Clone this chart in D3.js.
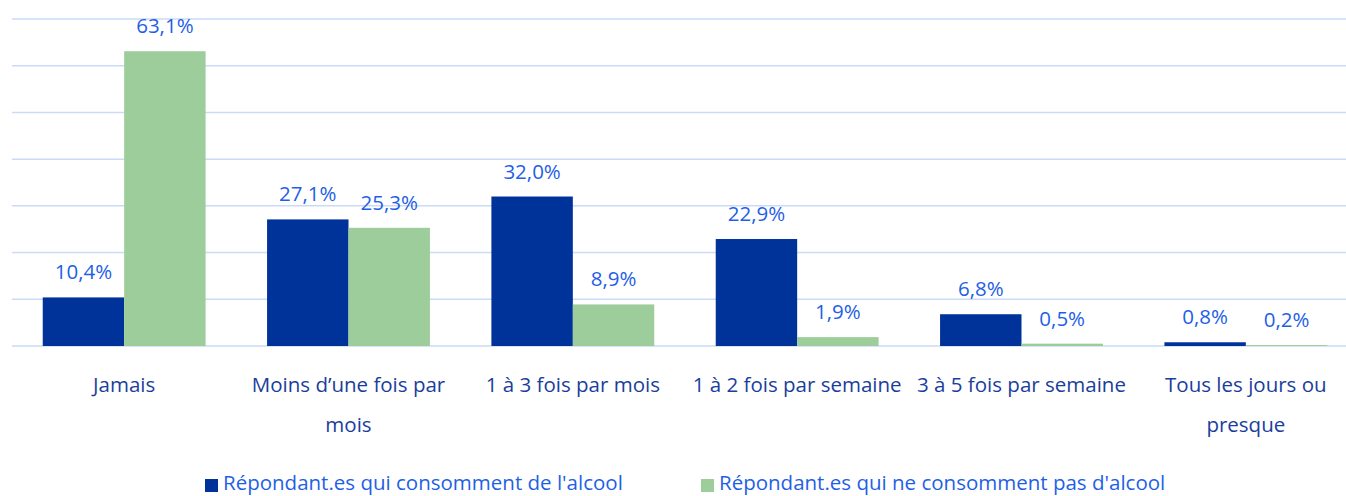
<!DOCTYPE html>
<html>
<head>
<meta charset="utf-8">
<script src="https://cdn.jsdelivr.net/npm/d3@7"></script>
<style>
  body { margin: 0; background: #fff; }
  svg { display: block; font-family: "Open Sans", "Noto Sans", sans-serif; }
</style>
</head>
<body>
<svg id="chart" width="1346" height="496"></svg>
<script>
var categories = [
    ["Jamais"],
    ["Moins d\u2019une fois par", "mois"],
    ["1 \u00e0 3 fois par mois"],
    ["1 \u00e0 2 fois par semaine"],
    ["3 \u00e0 5 fois par semaine"],
    ["Tous les jours ou", "presque"]
];
var seriesNames = ["R\u00e9pondant.es qui consomment de l'alcool", "R\u00e9pondant.es qui ne consomment pas d'alcool"];
var drinkers = [10.4, 27.1, 32.0, 22.9, 6.8, 0.8];
var nonDrinkers = [63.1, 25.3, 8.9, 1.9, 0.5, 0.2];
var yTicks = [0, 10, 20, 30, 40, 50, 60, 70];

var colors = ["#003399", "#9dcd9a"];

var svg = d3.select("#chart");
var plotTop = 19, plotBottom = 346, plotLeft = 12, plotRight = 1358;

var groups = categories.map(function(c, i) { return i; });
var x0 = d3.scaleBand().domain(groups).range([plotLeft, plotRight]).paddingInner(0.274).paddingOuter(0.137);
var x1 = d3.scaleBand().domain([0, 1]).range([0, x0.bandwidth()]);
var y = d3.scaleLinear().domain([0, 70]).range([plotBottom, plotTop]);

// grid
svg.append("g").selectAll("line").data(yTicks).enter().append("line")
    .attr("x1", plotLeft).attr("x2", 1346)
    .attr("y1", function(d) { return y(d); })
    .attr("y2", function(d) { return y(d); })
    .attr("stroke", "#c9dbf7").attr("stroke-width", 1.5);

var series = [drinkers, nonDrinkers];
series.forEach(function(vals, s) {
    var g = svg.append("g");
    g.selectAll("rect").data(vals).enter().append("rect")
        .attr("x", function(d, i) { return x0(i) + x1(s); })
        .attr("y", function(d) { return y(d); })
        .attr("width", x1.bandwidth())
        .attr("height", function(d) { return plotBottom - y(d); })
        .attr("fill", colors[s]);
    g.selectAll("text").data(vals).enter().append("text")
        .attr("x", function(d, i) { return x0(i) + x1(s) + x1.bandwidth() / 2; })
        .attr("y", function(d) { return y(d) - 18; })
        .attr("text-anchor", "middle")
        .attr("font-size", 20.5)
        .attr("fill", "#1f5fe6")
        .text(function(d) { return d.toFixed(1).replace(".", ",") + "%"; });
});

// category labels
var cat = svg.append("g");
categories.forEach(function(lines, i) {
    var t = cat.append("text")
        .attr("text-anchor", "middle")
        .attr("font-size", 20.5)
        .attr("fill", "#1a3e9c");
    lines.forEach(function(l, k) {
        t.append("tspan")
            .attr("x", x0(i) + x0.bandwidth() / 2)
            .attr("y", 392 + k * 40)
            .text(l);
    });
});

// legend
var legendX = [205, 701];
seriesNames.forEach(function(n, s) {
    svg.append("rect").attr("x", legendX[s]).attr("y", 479).attr("width", 13).attr("height", 13).attr("fill", colors[s]);
    svg.append("text").attr("x", legendX[s] + 18).attr("y", 490)
        .attr("font-size", 20.5).attr("fill", "#1f5fe6").text(n);
});
</script>
</body>
</html>
